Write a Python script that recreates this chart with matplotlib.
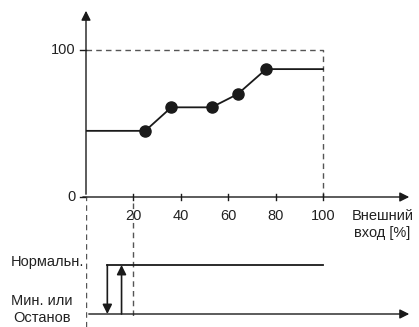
import matplotlib
matplotlib.use("Agg")
import matplotlib.pyplot as plt

plt.rcParams['font.family'] = ['Liberation Sans', 'DejaVu Sans']

# characteristic curve (external input % -> output %)
curve_x = [0, 25, 36, 53, 64, 76, 100]
curve_y = [45, 45, 61, 61, 70, 87, 87]
point_x = [25, 36, 53, 64, 76]
point_y = [45, 61, 61, 70, 87]

x_ticks = [20, 40, 60, 80, 100]
y_ticks = [0, 100]

# switching thresholds for the lower diagram
switch_down = 9
switch_up = 15
state_labels = ['Мин. или\nОстанов', 'Нормальн.']

W, H = 419, 327
fig = plt.figure(figsize=(W / 100, H / 100), dpi=100)

px_x = 2.37   # pixels per unit
px_y = 1.47
x0_px, y0_px = 86, 197
right_px = 412
xmax = (right_px - x0_px) / px_x
fs = 10.5

ax = fig.add_axes([x0_px / W, (H - y0_px) / H, (right_px - x0_px) / W, (y0_px - 8) / H])
ax.set_xlim(0, xmax)
ax.set_ylim(0, (y0_px - 8) / px_y)
ax.axis('off')

dash_c = '#555555'
ax.plot([0, 100, 100], [100, 100, 0], ls=(0, (4, 3)), color=dash_c, lw=1.0, clip_on=False)
ax.plot(curve_x, curve_y, color='#1a1a1a', lw=1.3)
ax.plot(point_x, point_y, 'o', color='#1a1a1a', ms=8)

# axes with arrows
ax.annotate('', xy=(xmax, 0), xytext=(-2.5, 0),
            arrowprops=dict(arrowstyle='-|>', color='#1a1a1a', lw=1.0, mutation_scale=14),
            annotation_clip=False)
ax.annotate('', xy=(0, ax.get_ylim()[1]), xytext=(0, 0),
            arrowprops=dict(arrowstyle='-|>', color='#1a1a1a', lw=1.0, mutation_scale=14),
            annotation_clip=False)
for t in x_ticks:
    ax.plot([t, t], [-2, 2], color='#1a1a1a', lw=1.0, clip_on=False)
    ax.text(t, -8, str(t), ha='center', va='top', fontsize=fs, color='#222222')
for t in y_ticks:
    ax.plot([-2.5, 0], [t, t], color='#1a1a1a', lw=1.0, clip_on=False)
    ax.text(-4.5, t, str(t), ha='right', va='center', fontsize=fs, color='#222222')
ax.text(xmax - 12.5, -8, 'Внешний\nвход [%]', ha='center', va='top', fontsize=fs,
        color='#222222', linespacing=1.25, multialignment='center')

# lower switching diagram
lo_px, hi_px = 314, 265
py = lo_px - hi_px
ax2 = fig.add_axes([x0_px / W, 0, (right_px - x0_px) / W, (H - y0_px) / H])
ax2.set_xlim(0, xmax)
ax2.set_ylim(-(H - lo_px) / py, (lo_px - y0_px) / py)
ax2.axis('off')

ax2.axvline(0, ls=(0, (4, 3)), color=dash_c, lw=1.0)
ax2.plot([20, 20], [2.27, -0.08], ls=(0, (4, 3)), color=dash_c, lw=1.0)
ax2.annotate('', xy=(xmax, 0), xytext=(0, 0),
             arrowprops=dict(arrowstyle='-|>', color='#1a1a1a', lw=1.0, mutation_scale=14),
             annotation_clip=False)
ax2.plot([switch_down, 100], [1, 1], color='#1a1a1a', lw=1.3)
ax2.annotate('', xy=(switch_down, 0), xytext=(switch_down, 1),
             arrowprops=dict(arrowstyle='-|>', color='#1a1a1a', lw=1.2, mutation_scale=14,
                             shrinkA=0, shrinkB=0))
ax2.annotate('', xy=(switch_up, 1), xytext=(switch_up, 0),
             arrowprops=dict(arrowstyle='-|>', color='#1a1a1a', lw=1.2, mutation_scale=14,
                             shrinkA=0, shrinkB=0))
ax2.text(-44 / px_x, 0.09, state_labels[0], ha='center', va='center', fontsize=fs,
         color='#222222', linespacing=1.2, multialignment='center')
ax2.text(-1, 1.06, state_labels[1], ha='right', va='center', fontsize=fs, color='#222222')

fig.savefig('out.png', dpi=100)
